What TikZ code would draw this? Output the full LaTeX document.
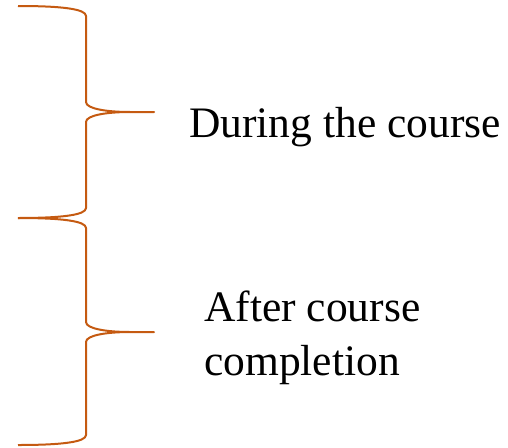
\documentclass[tikz,border=0pt]{standalone}
\usepackage{fontspec}
\setmainfont{Liberation Serif}
\definecolor{bracecol}{HTML}{C55A11}
\begin{document}
\begin{tikzpicture}[x=1pt,y=-1pt,
  bracestyle/.style={draw=bracecol,line width=2pt,line join=round},
  lbl/.style={anchor=base west,inner sep=0pt,font=\fontsize{43.5}{52}\selectfont}]
\useasboundingbox (0,0) rectangle (508,447);
% brace 1
\coordinate (b1top) at (18,6);
\coordinate (b1tip) at (154,112);
\coordinate (b1bot) at (18,218);
\draw[bracestyle] (b1top) .. controls (62,6) and (86,9) .. (86,16)
  -- (86,102) .. controls (86,109) and (108,112) .. (130,112) -- (b1tip)
  -- (130,112) .. controls (108,112) and (86,115) .. (86,122)
  -- (86,208) .. controls (86,215) and (62,218) .. (b1bot);
% brace 2
\coordinate (b2top) at (18,218);
\coordinate (b2tip) at (154,332);
\coordinate (b2bot) at (18,445);
\draw[bracestyle] (b2top) .. controls (62,218) and (86,221) .. (86,228)
  -- (86,322) .. controls (86,329) and (108,332) .. (130,332) -- (b2tip)
  -- (130,332) .. controls (108,332) and (86,335) .. (86,342)
  -- (86,435) .. controls (86,442) and (62,445) .. (b2bot);
\node[lbl] (during) at (189,137) {During the course};
\node[lbl] (after) at (204,321) {After course};
\node[lbl] (compl) at (204,375) {completion};
\end{tikzpicture}
\end{document}
